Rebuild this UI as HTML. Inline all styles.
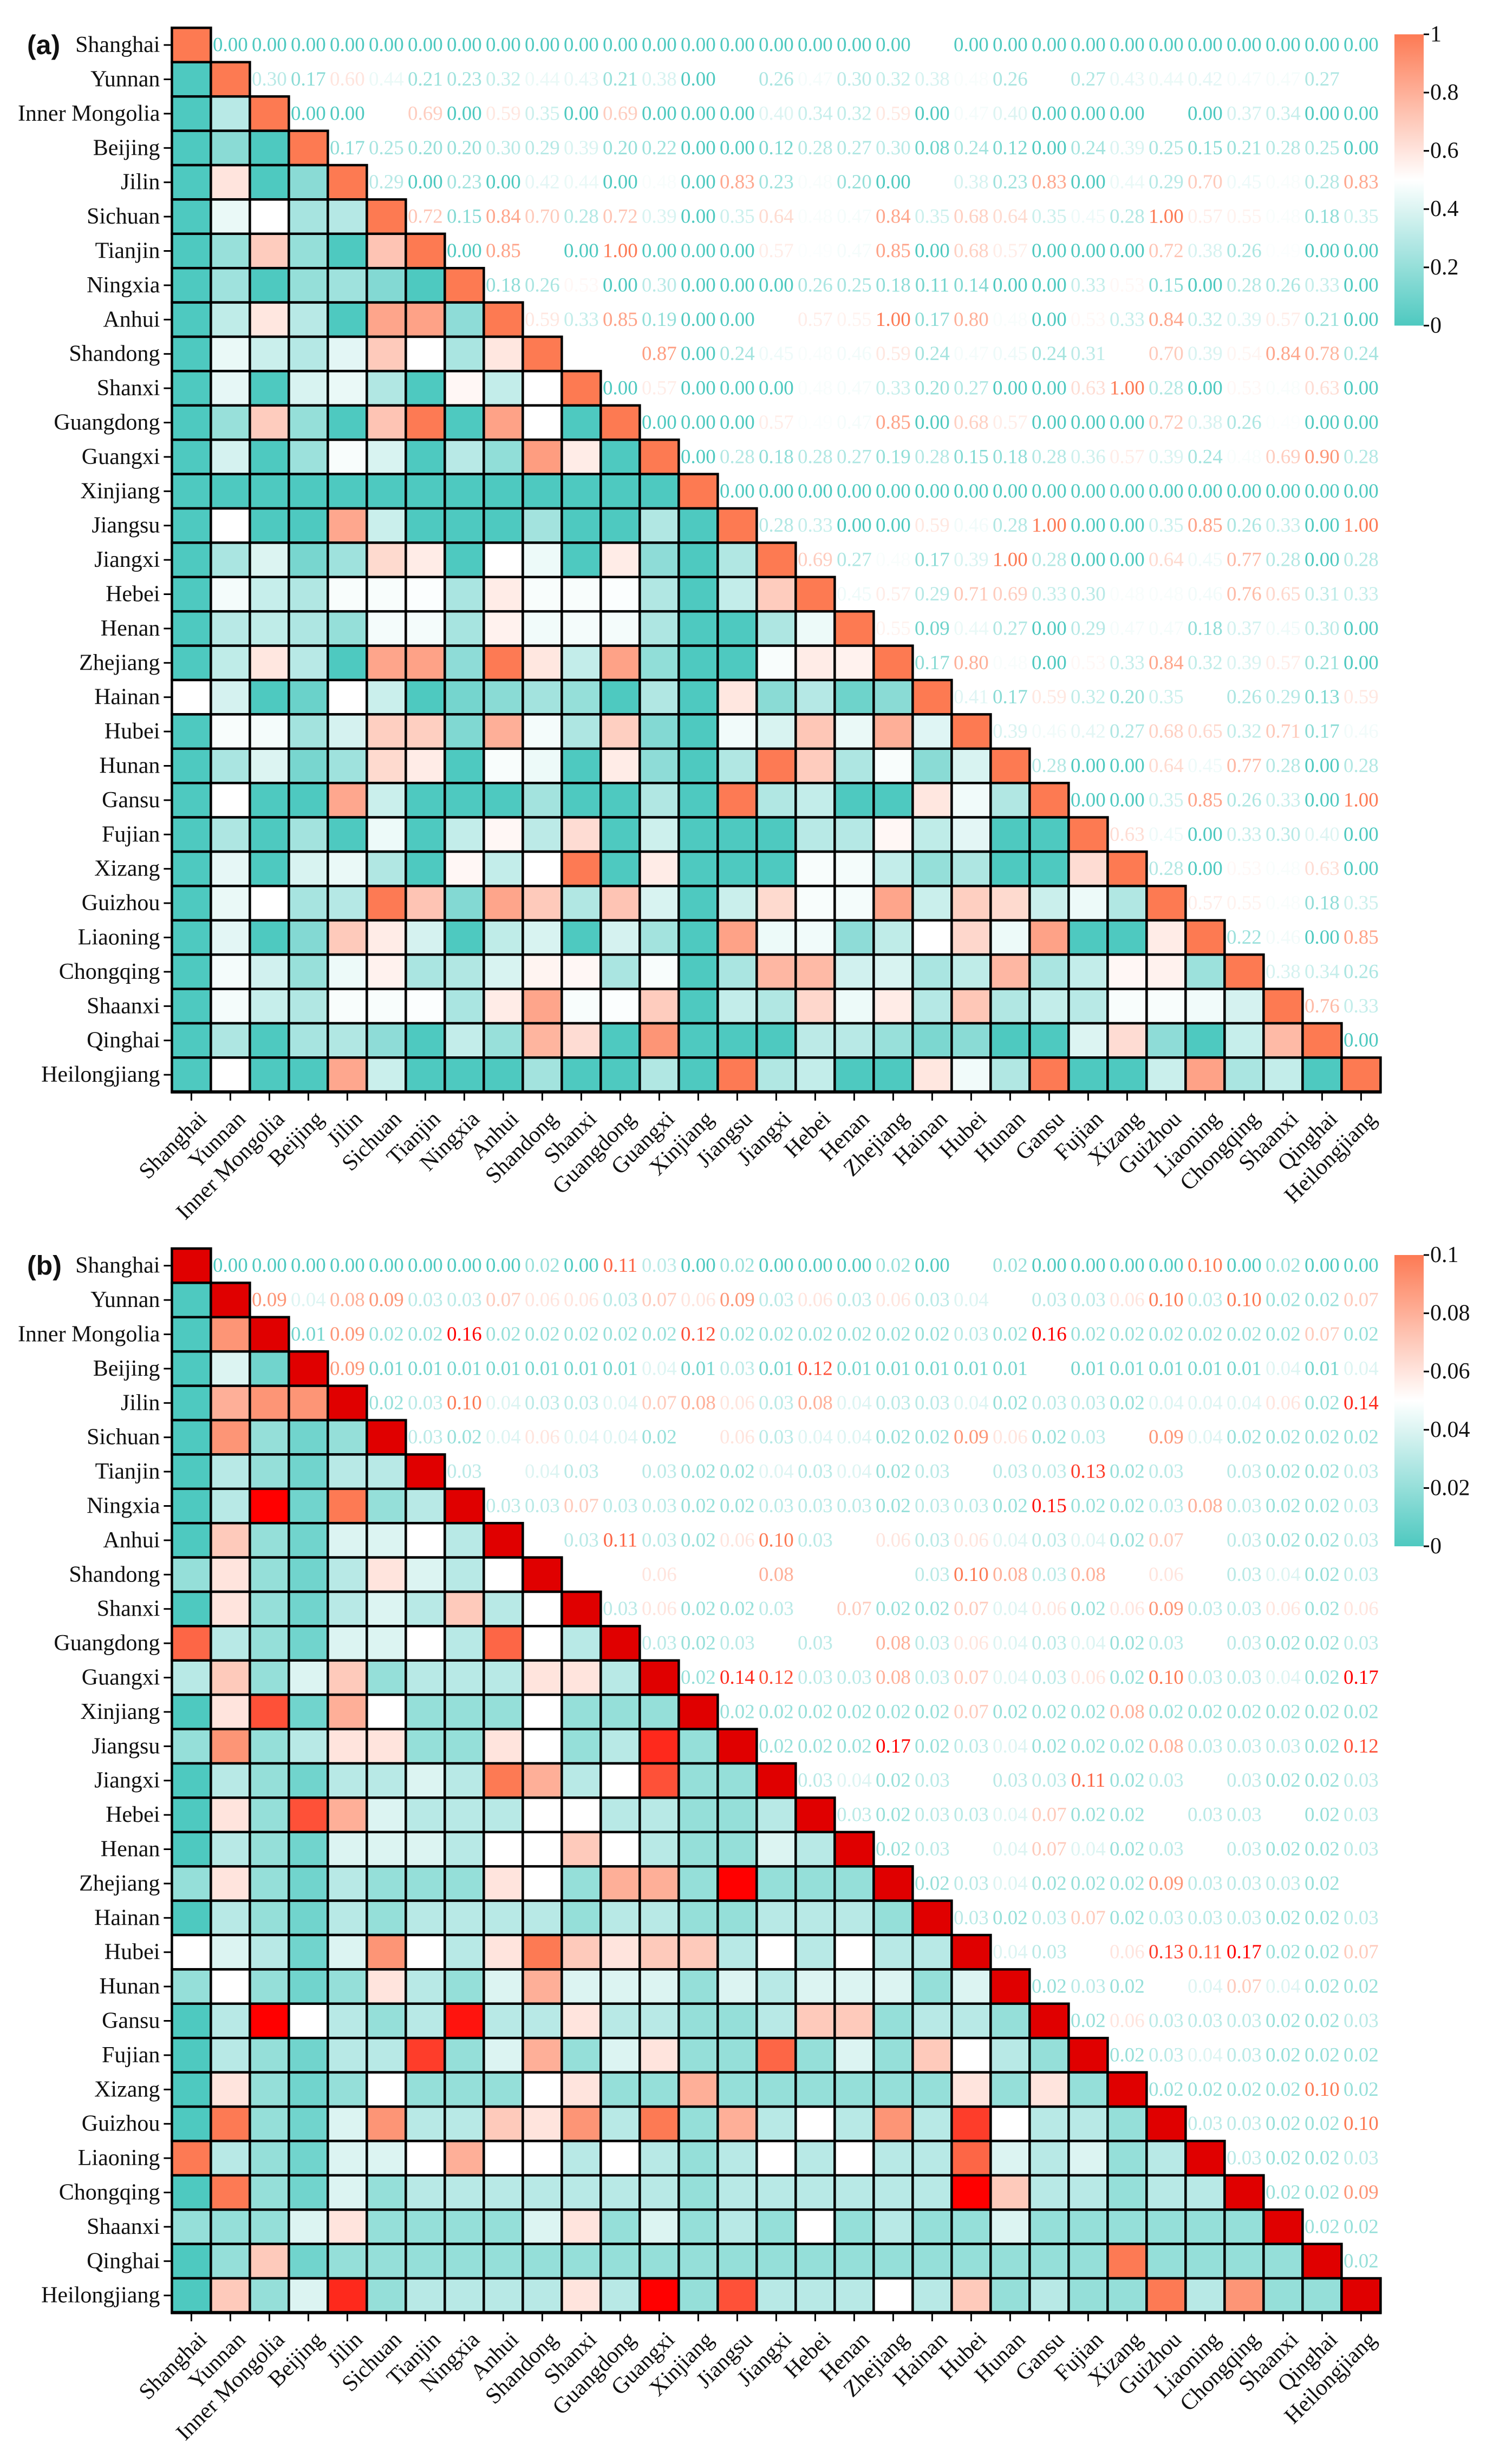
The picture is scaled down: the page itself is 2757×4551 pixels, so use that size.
<!DOCTYPE html>
<html><head><meta charset="utf-8">
<style>
html,body{margin:0;padding:0;background:#fff;}
svg{display:block;font-family:"Liberation Serif","Times New Roman",serif;}
</style></head>
<body>
<svg id="fig" xmlns="http://www.w3.org/2000/svg" width="2757" height="4551" viewBox="0 0 2757 4551">
<rect width="2757" height="4551" fill="#fff"/>
</svg>
<script>
const provinces = ["Shanghai","Yunnan","Inner Mongolia","Beijing","Jilin","Sichuan","Tianjin","Ningxia","Anhui","Shandong","Shanxi","Guangdong","Guangxi","Xinjiang","Jiangsu","Jiangxi","Hebei","Henan","Zhejiang","Hainan","Hubei","Hunan","Gansu","Fujian","Xizang","Guizhou","Liaoning","Chongqing","Shaanxi","Qinghai","Heilongjiang"];

// Panel (a): upper-triangle values, row i holds columns i+1..30
const valuesA = [
[0,0,0,0,0,0,0,0,0,0,0,0,0,0,0,0,0,0,0.50,0,0,0,0,0,0,0,0,0,0,0],
[0.30,0.17,0.60,0.44,0.21,0.23,0.32,0.44,0.43,0.21,0.38,0.00,0.50,0.26,0.47,0.30,0.32,0.38,0.48,0.26,0.50,0.27,0.43,0.44,0.42,0.47,0.47,0.27,0.50],
[0.00,0.00,0.50,0.69,0.00,0.59,0.35,0.00,0.69,0.00,0.00,0.00,0.40,0.34,0.32,0.59,0.00,0.47,0.40,0.00,0.00,0.00,0.50,0.00,0.37,0.34,0.00,0.00],
[0.17,0.25,0.20,0.20,0.30,0.29,0.39,0.20,0.22,0.00,0.00,0.12,0.28,0.27,0.30,0.08,0.24,0.12,0.00,0.24,0.39,0.25,0.15,0.21,0.28,0.25,0.00],
[0.29,0.00,0.23,0.00,0.42,0.44,0.00,0.48,0.00,0.83,0.23,0.48,0.20,0.00,0.50,0.38,0.23,0.83,0.00,0.44,0.29,0.70,0.45,0.48,0.28,0.83],
[0.72,0.15,0.84,0.70,0.28,0.72,0.39,0.00,0.35,0.64,0.48,0.47,0.84,0.35,0.68,0.64,0.35,0.45,0.28,1.00,0.57,0.55,0.48,0.18,0.35],
[0.00,0.85,0.50,0.00,1.00,0.00,0.00,0.00,0.57,0.49,0.47,0.85,0.00,0.68,0.57,0.00,0.00,0.00,0.72,0.38,0.26,0.49,0.00,0.00],
[0.18,0.26,0.53,0.00,0.30,0.00,0.00,0.00,0.26,0.25,0.18,0.11,0.14,0.00,0.00,0.33,0.53,0.15,0.00,0.28,0.26,0.33,0.00],
[0.59,0.33,0.85,0.19,0.00,0.00,0.50,0.57,0.55,1.00,0.17,0.80,0.48,0.00,0.53,0.33,0.84,0.32,0.39,0.57,0.21,0.00],
[0.50,0.50,0.87,0.00,0.24,0.45,0.48,0.46,0.59,0.24,0.47,0.45,0.24,0.31,0.50,0.70,0.39,0.54,0.84,0.78,0.24],
[0.00,0.57,0.00,0.00,0.00,0.48,0.47,0.33,0.20,0.27,0.00,0.00,0.63,1.00,0.28,0.00,0.53,0.48,0.63,0.00],
[0.00,0.00,0.00,0.57,0.49,0.47,0.85,0.00,0.68,0.57,0.00,0.00,0.00,0.72,0.38,0.26,0.49,0.00,0.00],
[0.00,0.28,0.18,0.28,0.27,0.19,0.28,0.15,0.18,0.28,0.36,0.57,0.39,0.24,0.48,0.69,0.90,0.28],
[0,0,0,0,0,0,0,0,0,0,0,0,0,0,0,0,0],
[0.28,0.33,0.00,0.00,0.59,0.46,0.28,1.00,0.00,0.00,0.35,0.85,0.26,0.33,0.00,1.00],
[0.69,0.27,0.48,0.17,0.39,1.00,0.28,0.00,0.00,0.64,0.45,0.77,0.28,0.00,0.28],
[0.45,0.57,0.29,0.71,0.69,0.33,0.30,0.48,0.48,0.46,0.76,0.65,0.31,0.33],
[0.55,0.09,0.44,0.27,0.00,0.29,0.47,0.47,0.18,0.37,0.45,0.30,0.00],
[0.17,0.80,0.48,0.00,0.53,0.33,0.84,0.32,0.39,0.57,0.21,0.00],
[0.41,0.17,0.59,0.32,0.20,0.35,0.50,0.26,0.29,0.13,0.59],
[0.39,0.46,0.42,0.27,0.68,0.65,0.32,0.71,0.17,0.46],
[0.28,0.00,0.00,0.64,0.45,0.77,0.28,0.00,0.28],
[0.00,0.00,0.35,0.85,0.26,0.33,0.00,1.00],
[0.63,0.45,0.00,0.33,0.30,0.40,0.00],
[0.28,0.00,0.53,0.48,0.63,0.00],
[0.57,0.55,0.48,0.18,0.35],
[0.22,0.46,0.00,0.85],
[0.38,0.34,0.26],
[0.76,0.33],
[0.00]
];

// Panel (b): upper-triangle values
const valuesB = [
[0,0,0,0,0,0,0,0,0.02,0.00,0.11,0.03,0.00,0.02,0.00,0.00,0.00,0.02,0.00,0.05,0.02,0.00,0.00,0.00,0.00,0.10,0.00,0.02,0.00,0.00],
[0.09,0.04,0.08,0.09,0.03,0.03,0.07,0.06,0.06,0.03,0.07,0.06,0.09,0.03,0.06,0.03,0.06,0.03,0.04,0.05,0.03,0.03,0.06,0.10,0.03,0.10,0.02,0.02,0.07],
[0.01,0.09,0.02,0.02,0.16,0.02,0.02,0.02,0.02,0.02,0.12,0.02,0.02,0.02,0.02,0.02,0.02,0.03,0.02,0.16,0.02,0.02,0.02,0.02,0.02,0.02,0.07,0.02],
[0.09,0.01,0.01,0.01,0.01,0.01,0.01,0.01,0.04,0.01,0.03,0.01,0.12,0.01,0.01,0.01,0.01,0.01,0.05,0.01,0.01,0.01,0.01,0.01,0.04,0.01,0.04],
[0.02,0.03,0.10,0.04,0.03,0.03,0.04,0.07,0.08,0.06,0.03,0.08,0.04,0.03,0.03,0.04,0.02,0.03,0.03,0.02,0.04,0.04,0.04,0.06,0.02,0.14],
[0.03,0.02,0.04,0.06,0.04,0.04,0.02,0.05,0.06,0.03,0.04,0.04,0.02,0.02,0.09,0.06,0.02,0.03,0.05,0.09,0.04,0.02,0.02,0.02,0.02],
[0.03,0.05,0.04,0.03,0.05,0.03,0.02,0.02,0.04,0.03,0.04,0.02,0.03,0.05,0.03,0.03,0.13,0.02,0.03,0.05,0.03,0.02,0.02,0.03],
[0.03,0.03,0.07,0.03,0.03,0.02,0.02,0.03,0.03,0.03,0.02,0.03,0.03,0.02,0.15,0.02,0.02,0.03,0.08,0.03,0.02,0.02,0.03],
[0.05,0.03,0.11,0.03,0.02,0.06,0.10,0.03,0.05,0.06,0.03,0.06,0.04,0.03,0.04,0.02,0.07,0.05,0.03,0.02,0.02,0.03],
[0.05,0.05,0.06,0.05,0.05,0.08,0.05,0.05,0.05,0.03,0.10,0.08,0.03,0.08,0.05,0.06,0.05,0.03,0.04,0.02,0.03],
[0.03,0.06,0.02,0.02,0.03,0.05,0.07,0.02,0.02,0.07,0.04,0.06,0.02,0.06,0.09,0.03,0.03,0.06,0.02,0.06],
[0.03,0.02,0.03,0.05,0.03,0.05,0.08,0.03,0.06,0.04,0.03,0.04,0.02,0.03,0.05,0.03,0.02,0.02,0.03],
[0.02,0.14,0.12,0.03,0.03,0.08,0.03,0.07,0.04,0.03,0.06,0.02,0.10,0.03,0.03,0.04,0.02,0.17],
[0.02,0.02,0.02,0.02,0.02,0.02,0.07,0.02,0.02,0.02,0.08,0.02,0.02,0.02,0.02,0.02,0.02],
[0.02,0.02,0.02,0.17,0.02,0.03,0.04,0.02,0.02,0.02,0.08,0.03,0.03,0.03,0.02,0.12],
[0.03,0.04,0.02,0.03,0.05,0.03,0.03,0.11,0.02,0.03,0.05,0.03,0.02,0.02,0.03],
[0.03,0.02,0.03,0.03,0.04,0.07,0.02,0.02,0.05,0.03,0.03,0.05,0.02,0.03],
[0.02,0.03,0.05,0.04,0.07,0.04,0.02,0.03,0.05,0.03,0.02,0.02,0.03],
[0.02,0.03,0.04,0.02,0.02,0.02,0.09,0.03,0.03,0.03,0.02,0.05],
[0.03,0.02,0.03,0.07,0.02,0.03,0.03,0.03,0.02,0.02,0.03],
[0.04,0.03,0.05,0.06,0.13,0.11,0.17,0.02,0.02,0.07],
[0.02,0.03,0.02,0.05,0.04,0.07,0.04,0.02,0.02],
[0.02,0.06,0.03,0.03,0.03,0.02,0.02,0.03],
[0.02,0.03,0.04,0.03,0.02,0.02,0.02],
[0.02,0.02,0.02,0.02,0.10,0.02],
[0.03,0.03,0.02,0.02,0.10],
[0.03,0.02,0.02,0.03],
[0.02,0.02,0.09],
[0.02,0.02],
[0.02]
];

const ticksA = [0,0.2,0.4,0.6,0.8,1];
const tickLabelsA = ["0","0.2","0.4","0.6","0.8","1"];
const ticksB = [0,0.02,0.04,0.06,0.08,0.1];
const tickLabelsB = ["0","0.02","0.04","0.06","0.08","0.1"];

const NS = "http://www.w3.org/2000/svg";
const svg = document.getElementById("fig");
function mk(tag, attrs, parent){
  const e = document.createElementNS(NS, tag);
  for (const k in attrs) e.setAttribute(k, attrs[k]);
  (parent||svg).appendChild(e);
  return e;
}
function hex(c){return "#"+c.map(v=>Math.round(Math.max(0,Math.min(255,v))).toString(16).padStart(2,"0")).join("");}
function lerp(a,b,t){return a.map((v,i)=>v+(b[i]-v)*t);}
const TEAL=[78,201,192], WHITE=[255,255,255], TOMATO=[253,122,84], RED=[255,0,0];
function cmapA(v){ v=Math.max(0,Math.min(1,v)); return v<0.5?hex(lerp(TEAL,WHITE,v/0.5)):hex(lerp(WHITE,TOMATO,(v-0.5)/0.5)); }
function cmapB(v){ v=Math.max(0,v);
  if(v<0.05) return hex(lerp(TEAL,WHITE,v/0.05));
  if(v<=0.1) return hex(lerp(WHITE,TOMATO,(v-0.05)/0.05));
  return hex(lerp(TOMATO,RED,Math.min(1,(v-0.1)/0.06)));
}

const X0 = 317.4, CW = 72, CH = 63.4, N = provinces.length;
const CBX = 2575, CBW = 54;

function drawPanel(opts){
  const {top, values, cmap, diagColor, vmax, ticks, tickLabels, label, id} = opts;
  const g = mk("g", {});
  
  
  const xS = j => X0 + j*CW;
  const yS = i => top + i*CH;
  const val = (i,j) => i<j ? values[i][j-i-1] : values[j][i-j-1];
  // lower triangle + diagonal cells
  for (let i=0;i<N;i++){
    for (let j=0;j<=i;j++){
      const fill = (i===j) ? diagColor : cmap(val(i,j));
      const r = mk("rect", {x:xS(j), y:yS(i), width:CW, height:CH, fill:fill, stroke:"#000", "stroke-width":4.5}, g);
      
      
    }
  }
  // upper triangle values as text
  for (let i=0;i<N;i++){
    for (let j=i+1;j<N;j++){
      const v = val(i,j);
      const t = mk("text", {x:xS(j)+CW/2, y:yS(i)+CH/2, "font-size":37, "text-anchor":"middle", "dominant-baseline":"central", fill:cmap(v)}, g);
      
      
      t.textContent = v.toFixed(2);
    }
  }
  // bottom axis line
  const bottom = yS(N);
  const ax = mk("line", {x1:X0-2, x2:xS(N)+2, y1:bottom, y2:bottom, stroke:"#000", "stroke-width":6}, g);
  
  
  // y axis ticks & labels
  for (let i=0;i<N;i++){
    const cy = yS(i)+CH/2;
    mk("line", {x1:X0-15, x2:X0, y1:cy, y2:cy, stroke:"#000", "stroke-width":3}, g);
    const t = mk("text", {x:X0-22, y:cy, "font-size":42, "text-anchor":"end", "dominant-baseline":"central", fill:"#111"}, g);
    
    
    t.textContent = provinces[i];
  }
  // x axis ticks & rotated labels
  for (let j=0;j<N;j++){
    const cx = xS(j)+CW/2;
    mk("line", {x1:cx, x2:cx, y1:bottom, y2:bottom+16, stroke:"#000", "stroke-width":3}, g);
    const t = mk("text", {x:cx+10, y:bottom+32, "font-size":42, "text-anchor":"end", "dominant-baseline":"hanging", fill:"#111", transform:"rotate(-45 "+(cx+10)+" "+(bottom+32)+")"}, g);
    
    
    t.textContent = provinces[j];
  }
  // panel label
  const pl = mk("text", {x:50, y:yS(0)+CH/2, "font-size":50, "font-weight":"bold", "font-family":"Liberation Sans, sans-serif", "dominant-baseline":"central", fill:"#111"}, g);
  
  
  pl.textContent = label;
  // colorbar
  const cbTop = top+12, cbBot = top+550;
  const gid = "grad-"+id;
  const defs = mk("defs", {}, g);
  const lg = mk("linearGradient", {id:gid, x1:0, y1:1, x2:0, y2:0}, defs);
  for (let k=0;k<=20;k++){
    mk("stop", {offset:(k/20), "stop-color":cmap(vmax*k/20)}, lg);
  }
  const cb = mk("rect", {x:CBX, y:cbTop, width:CBW, height:cbBot-cbTop, fill:"url(#"+gid+")"}, g);
  
  
  for (let k=0;k<ticks.length;k++){
    const ty = cbBot - (ticks[k]/vmax)*(cbBot-cbTop);
    mk("line", {x1:CBX+CBW, x2:CBX+CBW+10, y1:ty, y2:ty, stroke:"#000", "stroke-width":3}, g);
    const t = mk("text", {x:CBX+CBW+12, y:ty, "font-size":42, "dominant-baseline":"central", fill:"#111"}, g);
    
    
    t.textContent = tickLabels[k];
  }
}

drawPanel({top:51.4, values:valuesA, cmap:cmapA, diagColor:"#fd7a52", vmax:1, ticks:ticksA, tickLabels:tickLabelsA, label:"(a)", id:"panel-a"});
drawPanel({top:2306, values:valuesB, cmap:cmapB, diagColor:"#e00000", vmax:0.1, ticks:ticksB, tickLabels:tickLabelsB, label:"(b)", id:"panel-b"});
</script>
</body></html>
